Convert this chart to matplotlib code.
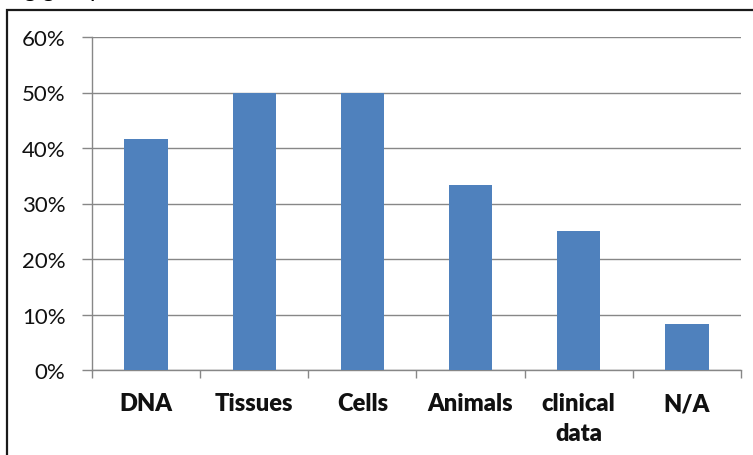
import numpy as np
import matplotlib
matplotlib.use('Agg')
import matplotlib.pyplot as plt
from matplotlib.patches import Rectangle
from matplotlib.ticker import PercentFormatter, FixedLocator


categories = ['DNA', 'Tissues', 'Cells', 'Animals', 'clinical\ndata', 'N/A']
shares = [5 / 12, 6 / 12, 6 / 12, 4 / 12, 3 / 12, 1 / 12]
y_ticks = [0.0, 0.1, 0.2, 0.3, 0.4, 0.5, 0.6]
heading = 'Testing groups'

BAR_COLOR = '#4F81BD'
GRID_COLOR = '#878787'

plt.rcParams['font.family'] = ['Lato', 'DejaVu Sans']


def draw_chart():

    W, H = 753, 456
    fig = plt.figure(figsize=(W / 100, H / 100), dpi=100)
    fig.patch.set_facecolor('white')

    # frame around the chart, runs off the right and bottom edges
    frame = Rectangle((7 / W, -0.2), 1.2, 0.2 + 1 - 10.5 / H,
                      transform=fig.transFigure, fill=False,
                      edgecolor='#1a1a1a', linewidth=1.6)
    fig.patches.append(frame)

    # heading sits above the frame, mostly outside the figure
    fig.text(-40 / W, 1 + 3 / H, heading, fontsize=17, ha='left', va='baseline')

    ax = fig.add_axes([92 / W, 1 - 371 / H, (741 - 92) / W, (371 - 38) / H])
    x = np.arange(len(categories))
    ax.bar(x, shares, width=0.4, color=BAR_COLOR, zorder=3)

    ax.set_xlim(-0.5, len(categories) - 0.5)
    ax.set_ylim(0, 0.6)

    ax.yaxis.set_major_locator(FixedLocator(y_ticks))
    ax.yaxis.set_major_formatter(PercentFormatter(1.0, decimals=0))
    ax.grid(axis='y', color=GRID_COLOR, linewidth=1.0, zorder=0)

    ax.set_xticks(x)
    ax.set_xticklabels(categories, fontweight='heavy', fontsize=17,
                       linespacing=1.45, va='top')
    ax.set_xticks(np.arange(len(categories) + 1) - 0.5, minor=True)

    ax.tick_params(axis='x', which='major', length=0, pad=16, colors='#111111')
    ax.tick_params(axis='x', which='minor', length=6, width=1.0, color=GRID_COLOR)
    ax.tick_params(axis='y', length=7, width=1.0, color=GRID_COLOR,
                   labelsize=16, pad=12, labelcolor='#111111')

    for side in ('top', 'right'):
        ax.spines[side].set_visible(False)
    for side in ('left', 'bottom'):
        ax.spines[side].set_color(GRID_COLOR)
        ax.spines[side].set_linewidth(1.0)

    fig.savefig('out.png', dpi=100)


def main():
    draw_chart()


if __name__ == '__main__':
    main()
